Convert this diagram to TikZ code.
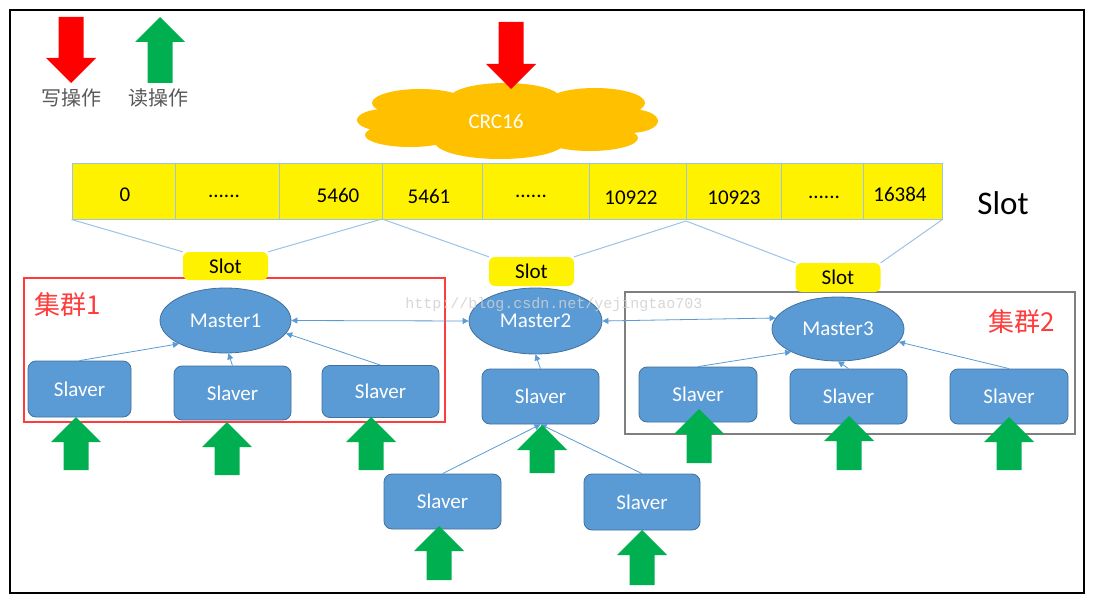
\documentclass[tikz,border=0pt]{standalone}
\usepackage{fontspec}
\setmainfont{Carlito}
\newfontfamily\cjk{Noto Sans CJK SC}
\newfontfamily\wmfont{Liberation Mono}
\usepackage{xcolor}
\usepackage{tikz}
\usetikzlibrary{shapes.geometric,arrows.meta,positioning}

\definecolor{nodeblue}{HTML}{5B9BD5}
\definecolor{nodeedge}{HTML}{41719C}
\definecolor{barline}{HTML}{9DC3E6}
\definecolor{cloudorange}{HTML}{FFC000}
\definecolor{readgreen}{HTML}{00B050}
\definecolor{writered}{HTML}{FF0000}
\definecolor{clusterred}{HTML}{FF3B3B}
\definecolor{clustergray}{HTML}{7F7F7F}
\definecolor{legendgray}{HTML}{595959}
\definecolor{markgray}{HTML}{D0D0D0}

\newcommand{\slotdots}{......}

\tikzset{
  txt/.style={font=\fontsize{21}{25}\selectfont},
  slaver/.style={txt, draw=nodeedge, line width=0.8pt, fill=nodeblue, text=white, rounded corners=8pt, minimum width=117pt, minimum height=55pt, inner sep=0pt},
  master/.style={txt, ellipse, draw=nodeedge, line width=0.8pt, fill=nodeblue, text=white, minimum width=131pt, minimum height=65pt, inner sep=0pt},
  slotbox/.style={txt, fill=yellow, rounded corners=6pt, minimum width=85pt, minimum height=29pt, inner sep=0pt},
  link/.style={nodeblue, line width=0.8pt, -{Triangle[length=6pt,width=6pt]}},
  duallink/.style={nodeblue, line width=0.8pt, {Triangle[length=6pt,width=6pt]}-{Triangle[length=6pt,width=6pt]}},
  barlink/.style={barline, line width=1pt},
  clusterlabel/.style={font=\cjk\fontsize{26}{30}\selectfont, text=clusterred},
  legendlabel/.style={font=\cjk\fontsize{20}{24}\selectfont, text=legendgray},
}

\begin{document}
\begin{tikzpicture}[x=1pt,y=-1pt]
    \useasboundingbox (0,0) rectangle (1098,602);
    \fill[white] (0,0) rectangle (1098,602);
    \draw[line width=2pt] (10,10) rectangle (1084,593);

    % Hash cloud
    \fill[cloudorange] (508,121) ellipse [x radius=115, y radius=25]
        (420,103) ellipse [x radius=48, y radius=14]
        (505,98) ellipse [x radius=55, y radius=15]
        (595,103) ellipse [x radius=50, y radius=15]
        (385,120) ellipse [x radius=28, y radius=11]
        (630,121) ellipse [x radius=28, y radius=12]
        (410,135) ellipse [x radius=45, y radius=12]
        (500,142) ellipse [x radius=65, y radius=17]
        (590,138) ellipse [x radius=48, y radius=13];
    \node[txt, text=white] (crc) at (496,121) {CRC16};

    % Slot bar
    \node[draw=barline, fill=yellow, line width=1pt, minimum width=870pt, minimum height=56pt, inner sep=0pt] (bar) at (507,191) {};
    \foreach \x in {175,279,382,482,589,686,781,863}
        \draw[barline, line width=1pt] (\x,163) -- (\x,219);
    \foreach \x/\y/\t [count=\i] in {125/195/0, 224/196/{\slotdots}, 338/195/5460, 429/196/5461, 531/196/{\slotdots}, 631/198/10922, 734/198/10923, 824/197/{\slotdots}, 900/194/16384}
        \node[txt] (cell\i) at (\x,\y) {\t};
    \node[font=\fontsize{33}{38}\selectfont] (slotlabel) at (1003,203) {Slot};
    \coordinate (b1) at (382,219);
    \coordinate (b2) at (686,221);

    % Clusters
    \draw[clusterred, line width=2pt] (24,278) rectangle (445,422);
    \draw[clustergray, line width=2pt] (625,292) rectangle (1075,434);
    \node[clusterlabel] (c1label) at (68,305) {集群1};
    \node[clusterlabel] (c2label) at (1022,322) {集群2};

    % Slot ranges
    \node[slotbox, minimum height=28pt] (slot1) at (225.5,266) {Slot};
    \node[slotbox] (slot2) at (531.5,271.5) {Slot};
    \node[slotbox] (slot3) at (838,277.5) {Slot};
    \draw[barlink] (bar.south west) -- (slot1.north west);
    \draw[barlink] (b1) -- (slot1.north east);
    \draw[barlink] (b1) -- (slot2.north west);
    \draw[barlink] (b2) -- (slot2.north east);
    \draw[barlink] (b2) -- (slot3.north west);
    \draw[barlink] (bar.south east) -- (slot3.north east);

    % Masters
    \node[master] (m1) at (225.5,320.5) {Master1};
    \node[master, minimum width=133pt, minimum height=66pt] (m2) at (535.5,321) {Master2};
    \node[master, minimum width=132pt, minimum height=64pt] (m3) at (838,329) {Master3};

    % Slavers
    \node[slaver, minimum width=103pt, minimum height=56pt] (s11) at (79.5,389) {Slaver};
    \node[slaver, minimum height=54pt] (s12) at (232.5,393) {Slaver};
    \node[slaver, minimum height=52pt] (s13) at (380.5,391.5) {Slaver};
    \node[slaver] (s21) at (540.5,396.5) {Slaver};
    \node[slaver] (s22) at (442.5,501.5) {Slaver};
    \node[slaver, minimum width=116pt, minimum height=56pt] (s23) at (642,502) {Slaver};
    \node[slaver, minimum width=118pt] (s31) at (698,394.5) {Slaver};
    \node[slaver] (s32) at (848.5,396.5) {Slaver};
    \node[slaver, minimum width=118pt] (s33) at (1009,396.5) {Slaver};

    % Replication
    \draw[link] (s11.north) -- (m1.south west);
    \draw[link] (s12.north) -- (m1.-85);
    \draw[link] (s13.north) -- (m1.-12);
    \draw[link] (s21.north) -- (m2.south);
    \draw[link] (s22.north) -- (s21.south);
    \draw[link] (s23.north) -- (s21.south);
    \draw[link] (s31.north) -- (m3.south west);
    \draw[link] (s32.north) -- (m3.south);
    \draw[link] (s33.north) -- (m3.-12);
    \draw[duallink] (m1.east) -- (m2.west);
    \draw[duallink] (m2.east) -- (m3.170);

    % Read arrows
    \foreach \c/\t/\b in {160/17/83, 76/417/470, 227/422/475, 371/417/470, 542/425/473, 439/526/580, 642/530/585, 699/409/463, 849/416/470, 1009/417/470}
        \fill[readgreen] (\c,\t) -- (\c+25,\t+25) -- (\c+12.5,\t+25) -- (\c+12.5,\b) -- (\c-12.5,\b) -- (\c-12.5,\t+25) -- (\c-25,\t+25) -- cycle;

    % Write arrows
    \foreach \c/\t/\b in {71/17/83, 511/22/89}
        \fill[writered] (\c-12.5,\t) -- (\c+12.5,\t) -- (\c+12.5,\b-25) -- (\c+25,\b-25) -- (\c,\b) -- (\c-25,\b-25) -- (\c-12.5,\b-25) -- cycle;

    % Legend
    \node[legendlabel] (wlabel) at (71,98) {写操作};
    \node[legendlabel] (rlabel) at (158,98) {读操作};

    \node[font=\wmfont\fontsize{15}{18}\selectfont, text=markgray, text opacity=0.85] (mark) at (554,305) {http://blog.csdn.net/yejingtao703};
\end{tikzpicture}
\end{document}
